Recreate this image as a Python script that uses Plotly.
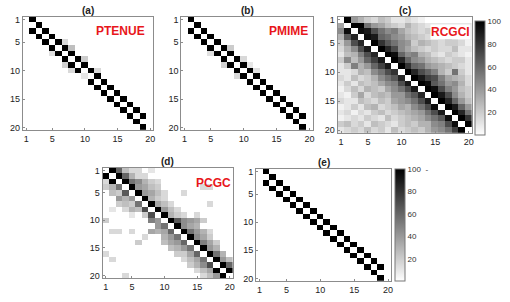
import plotly.graph_objects as go

W, H = 510, 302
IDX = list(range(1, 21))
TICKS = [1, 5, 10, 15, 20]

# true coupling pairs (row -> col), value 100
TRUE_ROWS = [1, 2, 3, 3, 4, 4, 5, 5, 6, 6, 7, 7, 8, 8, 9, 9, 10, 10, 11, 11,
             12, 12, 13, 13, 14, 14, 15, 15, 16, 16, 17, 17, 18, 18, 19, 20]
TRUE_COLS = [2, 3, 2, 4, 3, 5, 4, 6, 5, 7, 6, 8, 7, 9, 8, 10, 9, 11, 10, 12,
             11, 13, 12, 14, 13, 15, 14, 16, 15, 17, 16, 18, 17, 19, 18, 19]

# extra (weak) detections
PTENUE_ROWS = [5, 6, 7, 8, 9, 10, 10, 11]
PTENUE_COLS = [7, 8, 5, 10, 7, 8, 12, 10]
PTENUE_VALS = [15, 25, 12, 20, 18, 15, 15, 10]

PMIME_ROWS = [6, 7, 8, 9, 9, 10, 11]
PMIME_COLS = [8, 5, 10, 7, 11, 12, 9]
PMIME_VALS = [20, 12, 15, 18, 10, 12, 15]

RCGCI = [
    [0, 100, 40, 30, 20, 15, 25, 20, 10, 10, 15, 10, 5, 0, 0, 0, 0, 0, 0, 0],
    [35, 0, 100, 100, 55, 40, 35, 25, 20, 15, 30, 20, 15, 10, 10, 10, 10, 10, 10, 10],
    [45, 95, 0, 95, 90, 70, 55, 45, 50, 35, 25, 20, 15, 20, 15, 15, 20, 15, 10, 10],
    [30, 65, 85, 0, 95, 90, 60, 55, 45, 40, 30, 25, 20, 15, 15, 20, 35, 25, 15, 10],
    [20, 40, 70, 85, 0, 100, 80, 65, 55, 45, 40, 20, 30, 25, 20, 15, 20, 20, 15, 5],
    [15, 30, 45, 70, 90, 0, 100, 85, 70, 45, 35, 25, 20, 15, 20, 15, 15, 25, 10, 10],
    [10, 25, 30, 50, 70, 85, 0, 100, 95, 60, 45, 50, 30, 25, 15, 10, 20, 15, 10, 5],
    [20, 45, 25, 40, 60, 75, 90, 0, 100, 85, 60, 45, 40, 30, 25, 20, 15, 20, 20, 10],
    [10, 20, 50, 30, 40, 60, 75, 90, 0, 100, 80, 60, 55, 40, 35, 30, 25, 20, 15, 10],
    [10, 10, 15, 30, 25, 45, 55, 70, 80, 0, 100, 85, 70, 60, 50, 30, 20, 55, 20, 10],
    [15, 10, 25, 15, 20, 30, 45, 55, 65, 85, 0, 100, 90, 75, 70, 50, 35, 30, 25, 15],
    [10, 20, 10, 25, 20, 25, 35, 45, 50, 70, 90, 0, 100, 95, 65, 55, 40, 45, 30, 15],
    [5, 15, 25, 15, 30, 25, 20, 35, 45, 55, 70, 90, 0, 100, 95, 70, 50, 40, 25, 20],
    [10, 5, 20, 35, 15, 25, 30, 25, 40, 40, 55, 65, 85, 0, 100, 90, 70, 45, 30, 20],
    [15, 10, 10, 25, 20, 15, 25, 20, 35, 40, 45, 55, 70, 90, 0, 100, 85, 60, 40, 25],
    [5, 10, 20, 10, 25, 30, 15, 20, 25, 35, 30, 45, 55, 70, 95, 0, 100, 90, 60, 40],
    [10, 15, 5, 15, 10, 20, 25, 15, 20, 25, 30, 35, 40, 55, 70, 90, 0, 100, 85, 55],
    [5, 10, 15, 10, 20, 15, 10, 25, 15, 20, 25, 30, 35, 45, 55, 65, 95, 0, 100, 80],
    [20, 25, 15, 20, 10, 25, 20, 15, 10, 20, 25, 20, 30, 30, 45, 50, 70, 95, 0, 100],
    [10, 15, 20, 15, 25, 15, 20, 10, 25, 15, 20, 25, 20, 30, 40, 45, 55, 75, 100, 0],
]

PCGC = [
    [0, 100, 60, 25, 15, 15, 0, 10, 0, 0, 0, 0, 0, 0, 0, 0, 0, 0, 0, 0],
    [100, 0, 100, 60, 30, 15, 15, 0, 0, 0, 0, 0, 0, 0, 0, 0, 0, 0, 0, 0],
    [15, 100, 0, 100, 55, 45, 30, 20, 15, 0, 0, 0, 0, 0, 0, 0, 0, 0, 0, 0],
    [20, 30, 55, 0, 100, 40, 35, 25, 20, 0, 0, 0, 0, 0, 0, 15, 15, 0, 0, 0],
    [0, 25, 20, 65, 0, 100, 40, 35, 25, 15, 0, 0, 15, 0, 0, 0, 0, 0, 0, 0],
    [0, 0, 40, 30, 40, 0, 100, 30, 20, 15, 0, 0, 0, 0, 0, 0, 0, 0, 0, 0],
    [0, 0, 20, 25, 20, 55, 0, 100, 35, 25, 15, 0, 0, 0, 0, 0, 15, 0, 0, 0],
    [0, 10, 0, 15, 30, 25, 70, 0, 100, 40, 25, 15, 0, 0, 0, 0, 0, 0, 0, 0],
    [0, 0, 0, 0, 10, 0, 20, 70, 0, 100, 30, 20, 15, 0, 15, 0, 0, 0, 0, 0],
    [20, 0, 0, 0, 0, 0, 0, 50, 40, 0, 100, 65, 45, 40, 35, 20, 0, 0, 0, 0],
    [0, 0, 0, 0, 0, 0, 0, 0, 40, 55, 0, 100, 45, 35, 30, 0, 0, 0, 0, 0],
    [0, 15, 15, 0, 15, 0, 0, 35, 30, 35, 60, 0, 100, 55, 40, 30, 15, 0, 0, 0],
    [0, 0, 0, 0, 0, 0, 15, 0, 0, 30, 40, 55, 0, 100, 45, 35, 20, 0, 0, 0],
    [0, 0, 0, 0, 0, 20, 0, 0, 0, 25, 35, 40, 60, 0, 100, 50, 35, 20, 0, 0],
    [0, 0, 0, 0, 0, 0, 0, 0, 0, 0, 25, 30, 40, 55, 0, 100, 40, 30, 0, 0],
    [15, 0, 0, 0, 0, 0, 0, 0, 0, 0, 0, 20, 20, 35, 60, 0, 100, 55, 30, 0],
    [0, 15, 0, 0, 0, 0, 0, 0, 0, 0, 0, 0, 15, 25, 35, 55, 0, 100, 40, 25],
    [0, 0, 0, 0, 0, 0, 0, 0, 0, 0, 0, 0, 0, 20, 30, 45, 70, 0, 100, 60],
    [0, 0, 0, 0, 0, 0, 0, 0, 0, 0, 0, 0, 0, 0, 15, 25, 35, 100, 0, 100],
    [0, 0, 0, 15, 0, 0, 0, 0, 0, 0, 0, 0, 0, 0, 0, 15, 25, 40, 100, 0],
]

CBAR_TICKS = [20, 40, 60, 80, 100]


def sparse(rows, cols, vals):
    m = [[0] * 20 for _ in range(20)]
    for r, c, v in zip(rows, cols, vals):
        m[r - 1][c - 1] = v
    return m


true_m = sparse(TRUE_ROWS, TRUE_COLS, [100] * len(TRUE_ROWS))
ptenue_m = sparse(TRUE_ROWS + PTENUE_ROWS, TRUE_COLS + PTENUE_COLS,
                  [100] * len(TRUE_ROWS) + PTENUE_VALS)
pmime_m = sparse(TRUE_ROWS + PMIME_ROWS, TRUE_COLS + PMIME_COLS,
                 [100] * len(TRUE_ROWS) + PMIME_VALS)

FONT = "Liberation Sans, Arial, sans-serif"
GRAYS = [[0, "#ffffff"], [1, "#000000"]]

# panel boxes in pixels: x0, x1, y0, y1 (top-based)
boxes = {
    "a": (23, 154, 15, 130),
    "b": (182, 314, 15, 130),
    "c": (339, 474, 15, 133),
    "d": (103, 234, 168, 280),
    "e": (257, 393, 169, 283),
}
mats = {"a": ptenue_m, "b": pmime_m, "c": RCGCI, "d": PCGC, "e": true_m}

fig = go.Figure()
layout = dict(width=W, height=H, margin=dict(l=0, r=0, t=0, b=0),
              paper_bgcolor="white", plot_bgcolor="white", showlegend=False,
              font=dict(family=FONT, size=9, color="#222"))
annotations = []

for i, key in enumerate(["a", "b", "c", "d", "e"]):
    n = "" if i == 0 else str(i + 1)
    x0, x1, y0, y1 = boxes[key]
    cb = None
    show = False
    if key == "c":
        show = True
        cb = dict(x=477 / W, xanchor="left", y=1 - 135 / H, yanchor="bottom",
                  len=(135 - 19) / H, lenmode="fraction", thickness=10,
                  thicknessmode="pixels", outlinecolor="#777", outlinewidth=1,
                  tickvals=CBAR_TICKS, ticks="",
                  tickfont=dict(size=8, color="#333", family=FONT), xpad=0, ypad=0)
    if key == "e":
        show = True
        cb = dict(x=397 / W, xanchor="left", y=1 - 283 / H, yanchor="bottom",
                  len=(283 - 169) / H, lenmode="fraction", thickness=10,
                  thicknessmode="pixels", outlinecolor="#777", outlinewidth=1,
                  tickvals=CBAR_TICKS, ticktext=["20", "40", "60", "80", "100  -"],
                  ticks="", tickfont=dict(size=8, color="#333", family=FONT),
                  xpad=0, ypad=0)
    tr = go.Heatmap(z=mats[key], x=IDX, y=IDX, zmin=0, zmax=100,
                    colorscale=GRAYS, showscale=show,
                    xaxis="x" + n, yaxis="y" + n, hoverinfo="skip")
    if cb:
        tr.colorbar = cb
    fig.add_trace(tr)
    ax = dict(domain=[x0 / W, x1 / W], range=[0.5, 20.5], tickvals=TICKS,
              showline=True, mirror=True, linecolor="#8c8c8c", linewidth=1,
              ticks="inside", ticklen=2, tickcolor="#8c8c8c", showgrid=False,
              zeroline=False, anchor="y" + n, tickfont=dict(size=9, color="#222"))
    ay = dict(domain=[1 - y1 / H, 1 - y0 / H], range=[20.5, 0.5], tickvals=TICKS,
              showline=True, mirror=True, linecolor="#8c8c8c", linewidth=1,
              ticks="inside", ticklen=2, tickcolor="#8c8c8c", showgrid=False,
              zeroline=False, anchor="x" + n, tickfont=dict(size=9, color="#222"))
    layout["xaxis" + n] = ax
    layout["yaxis" + n] = ay
    annotations.append(dict(text="<b>(%s)</b>" % key, x=(x0 + x1) / 2 / W,
                            y=1 - (y0 - 6) / H, xref="paper", yref="paper",
                            showarrow=False, font=dict(size=10, color="#222"),
                            xanchor="center", yanchor="middle"))

labels = {
    "a": ("PTENUE", 121, 29, False),
    "b": ("PMIME", 290, 29, False),
    "c": ("RCGCI", 452, 30, True),
    "d": ("PCGC", 214, 183, False),
}
for key, (txt, cx, cy, bg) in labels.items():
    annotations.append(dict(text="<b>%s</b>" % txt, x=cx / W, y=1 - cy / H,
                            xref="paper", yref="paper", showarrow=False,
                            font=dict(size=12, color="#e8161b"),
                            bgcolor="white" if bg else None,
                            borderpad=0, xanchor="center", yanchor="middle"))

layout["annotations"] = annotations
fig.update_layout(**layout)
fig.write_html("out.html",
               config={"displayModeBar": False, "staticPlot": True},
               post_script="document.body.style.margin='0';"
                           "document.body.style.overflow='hidden';")
